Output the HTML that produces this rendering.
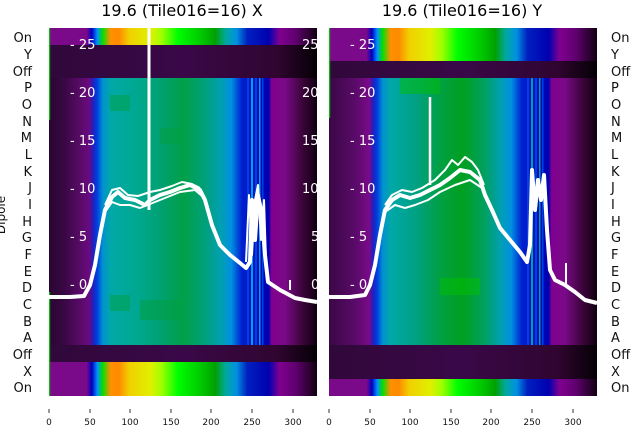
<!DOCTYPE html>
<html><head><meta charset="utf-8"><style>
body{margin:0;background:#fff;}
svg{display:block;font-family:"DejaVu Sans","Liberation Sans",sans-serif;}
</style></head><body>
<svg width="640" height="440" viewBox="0 0 640 440" xmlns="http://www.w3.org/2000/svg">
<defs>
<linearGradient id="mainL" x1="0" x2="1" y1="0" y2="0">
<stop offset="0" stop-color="#2a0530"/><stop offset="0.06" stop-color="#3a0845"/><stop offset="0.12" stop-color="#5a0a6a"/><stop offset="0.15" stop-color="#6a0a80"/><stop offset="0.165" stop-color="#2020c0"/><stop offset="0.18" stop-color="#0040e0"/><stop offset="0.2" stop-color="#0090d0"/><stop offset="0.23" stop-color="#00a8a8"/><stop offset="0.33" stop-color="#00a890"/><stop offset="0.42" stop-color="#00a070"/><stop offset="0.5" stop-color="#00a048"/><stop offset="0.58" stop-color="#00a078"/><stop offset="0.64" stop-color="#00a0b0"/><stop offset="0.68" stop-color="#0090e0"/><stop offset="0.72" stop-color="#0020d0"/><stop offset="0.82" stop-color="#0000b0"/><stop offset="0.83" stop-color="#800090"/><stop offset="0.88" stop-color="#7a0a88"/><stop offset="0.94" stop-color="#400540"/><stop offset="1" stop-color="#100010"/>
</linearGradient>
<linearGradient id="mainR" x1="0" x2="1" y1="0" y2="0">
<stop offset="0" stop-color="#3a0845"/><stop offset="0.1" stop-color="#5a0a6a"/><stop offset="0.15" stop-color="#7a0a8a"/><stop offset="0.165" stop-color="#2020c0"/><stop offset="0.18" stop-color="#0040e0"/><stop offset="0.2" stop-color="#0090d0"/><stop offset="0.23" stop-color="#00a8a8"/><stop offset="0.33" stop-color="#00a080"/><stop offset="0.42" stop-color="#00a040"/><stop offset="0.5" stop-color="#00a020"/><stop offset="0.58" stop-color="#00a060"/><stop offset="0.64" stop-color="#00a0b0"/><stop offset="0.68" stop-color="#0090e0"/><stop offset="0.72" stop-color="#0020d0"/><stop offset="0.82" stop-color="#0000b0"/><stop offset="0.83" stop-color="#800090"/><stop offset="0.88" stop-color="#7a0a88"/><stop offset="0.94" stop-color="#400540"/><stop offset="1" stop-color="#100010"/>
</linearGradient>
<linearGradient id="col" x1="0" x2="1" y1="0" y2="0">
<stop offset="0" stop-color="#7a0a8a"/><stop offset="0.14" stop-color="#7a0a8a"/><stop offset="0.16" stop-color="#0000c0"/><stop offset="0.18" stop-color="#0090ff"/><stop offset="0.2" stop-color="#00e000"/><stop offset="0.23" stop-color="#ff9000"/><stop offset="0.26" stop-color="#ff8a00"/><stop offset="0.3" stop-color="#f0d000"/><stop offset="0.38" stop-color="#e0f000"/><stop offset="0.42" stop-color="#a0ff00"/><stop offset="0.48" stop-color="#00ff00"/><stop offset="0.58" stop-color="#00c000"/><stop offset="0.62" stop-color="#00a000"/><stop offset="0.66" stop-color="#00a8a0"/><stop offset="0.7" stop-color="#0090e0"/><stop offset="0.74" stop-color="#0020c0"/><stop offset="0.82" stop-color="#0000b0"/><stop offset="0.86" stop-color="#800090"/><stop offset="0.92" stop-color="#600070"/><stop offset="1" stop-color="#100010"/>
</linearGradient>
<linearGradient id="dark" x1="0" x2="1" y1="0" y2="0">
<stop offset="0" stop-color="#30083a"/><stop offset="0.5" stop-color="#3a0848"/><stop offset="0.85" stop-color="#300530"/><stop offset="1" stop-color="#050005"/>
</linearGradient>
</defs>

<text x="182" y="16" font-size="16" text-anchor="middle">19.6 (Tile016=16) X</text>
<text x="462" y="16" font-size="16" text-anchor="middle">19.6 (Tile016=16) Y</text>

<!-- left panel -->
<rect x="49" y="28" width="268" height="17" fill="url(#col)"/>
<rect x="49" y="45" width="268" height="33" fill="url(#dark)"/>
<rect x="49" y="78" width="268" height="267" fill="url(#mainL)"/>
<rect x="49" y="345" width="268" height="17" fill="url(#dark)"/>
<rect x="49" y="362" width="268" height="34" fill="url(#col)"/>
<g fill="#0040e0"><rect x="247" y="78" width="2" height="267"/><rect x="255" y="78" width="2" height="267"/><rect x="262" y="78" width="1.5" height="267"/></g>
<g fill="#00a0e0"><rect x="251" y="78" width="2" height="267"/><rect x="259" y="78" width="1.5" height="267"/></g>
<g fill="#00a040" opacity="0.5"><rect x="110" y="95" width="20" height="16"/><rect x="160" y="128" width="25" height="16"/><rect x="140" y="300" width="40" height="20"/><rect x="110" y="295" width="20" height="16"/></g>
<rect x="49" y="28" width="1.2" height="92" fill="#00c000"/>
<rect x="49" y="292" width="1.2" height="104" fill="#00c000"/>

<!-- right panel -->
<rect x="329" y="28" width="268" height="33" fill="url(#col)"/>
<rect x="329" y="61" width="268" height="17" fill="url(#dark)"/>
<rect x="329" y="78" width="268" height="267" fill="url(#mainR)"/>
<rect x="329" y="345" width="268" height="34" fill="url(#dark)"/>
<rect x="329" y="379" width="268" height="17" fill="url(#col)"/>
<g fill="#0040e0"><rect x="527" y="78" width="2" height="267"/><rect x="535" y="78" width="2" height="267"/><rect x="542" y="78" width="1.5" height="267"/></g>
<g fill="#00a0a0"><rect x="531" y="78" width="2" height="267"/><rect x="539" y="78" width="1.5" height="267"/></g>
<g fill="#00c000" opacity="0.5"><rect x="440" y="278" width="40" height="17"/><rect x="400" y="78" width="40" height="16"/></g>
<rect x="329" y="28" width="1.2" height="90" fill="#00c000"/>

<g fill="#fff" font-size="13">
<text x="70" y="49">- 25</text><text x="70" y="97">- 20</text><text x="70" y="145">- 15</text><text x="70" y="193">- 10</text><text x="70" y="241">- 5</text><text x="70" y="289">- 0</text>
<text x="350" y="49">- 25</text><text x="350" y="97">- 20</text><text x="350" y="145">- 15</text><text x="350" y="193">- 10</text><text x="350" y="241">- 5</text><text x="350" y="289">- 0</text>
<text x="302" y="49">25</text><text x="302" y="97">20</text><text x="302" y="145">15</text><text x="302" y="193">10</text><text x="311" y="241">5</text><text x="311" y="289">0</text>
</g>

<g fill="none" stroke="#fff" stroke-linejoin="round">
<polyline stroke-width="4" points="49,297 70,297 84,296 90,285 95,265 100,235 105,210 112,197 118,192 125,198 135,200 145,205 150,200 160,195 170,192 180,188 190,185 200,190 205,200 212,225 220,245 230,255 240,263 246,268 250,262 252,200 255,240 258,195 262,215 265,255 268,282 280,290 295,298 305,300 317,302"/>
<polyline stroke-width="2" points="105,205 112,190 120,188 128,195 138,196 150,192 160,190 172,186 182,182 192,184 200,188"/>
<polyline stroke-width="2" points="105,212 112,202 120,205 130,205 140,208 150,204 165,198 180,192 195,190 202,196"/>
<polyline stroke-width="2" points="246,262 249,195 252,255 255,200 258,185 261,240 264,200 266,260"/>
<line x1="149" y1="28" x2="149" y2="210" stroke-width="3"/>
<line x1="290" y1="280" x2="290" y2="290" stroke-width="2"/>
</g>
<g fill="none" stroke="#fff" stroke-linejoin="round">
<polyline stroke-width="4" points="329,297 350,297 365,295 370,285 375,265 380,235 385,210 392,200 400,195 410,198 420,195 430,190 440,185 450,178 460,170 470,172 480,180 485,195 492,210 500,228 510,240 520,252 527,262 530,245 532,170 535,210 538,180 541,200 544,175 547,230 550,270 555,280 565,285 575,292 585,300 597,303"/>
<polyline stroke-width="2" points="385,205 392,195 402,190 412,192 422,188 435,180 445,170 452,160 458,165 465,157 472,162 478,170 484,185"/>
<polyline stroke-width="2" points="385,212 395,205 405,208 415,205 428,200 440,192 455,185 470,180 482,188 488,200"/>
<line x1="430" y1="97" x2="430" y2="185" stroke-width="2.5"/>
<line x1="566" y1="263" x2="566" y2="287" stroke-width="2"/>
</g>

<g font-size="13" fill="#111">
<g text-anchor="end">
<text x="32" y="42">On</text><text x="32" y="59">Y</text><text x="32" y="76">Off</text><text x="32" y="92">P</text><text x="32" y="109">O</text><text x="32" y="126">N</text><text x="32" y="142">M</text><text x="32" y="159">L</text><text x="32" y="176">K</text><text x="32" y="192">J</text><text x="32" y="209">I</text><text x="32" y="226">H</text><text x="32" y="242">G</text><text x="32" y="259">F</text><text x="32" y="276">E</text><text x="32" y="292">D</text><text x="32" y="309">C</text><text x="32" y="326">B</text><text x="32" y="342">A</text><text x="32" y="359">Off</text><text x="32" y="376">X</text><text x="32" y="392">On</text>
</g>
<g>
<text x="611" y="42">On</text><text x="611" y="59">Y</text><text x="611" y="76">Off</text><text x="611" y="92">P</text><text x="611" y="109">O</text><text x="611" y="126">N</text><text x="611" y="142">M</text><text x="611" y="159">L</text><text x="611" y="176">K</text><text x="611" y="192">J</text><text x="611" y="209">I</text><text x="611" y="226">H</text><text x="611" y="242">G</text><text x="611" y="259">F</text><text x="611" y="276">E</text><text x="611" y="292">D</text><text x="611" y="309">C</text><text x="611" y="326">B</text><text x="611" y="342">A</text><text x="611" y="359">Off</text><text x="611" y="376">X</text><text x="611" y="392">On</text>
</g>
<text transform="translate(5,215) rotate(-90)" text-anchor="middle" font-size="12">Dipole</text>
</g>

<g stroke="#333" stroke-width="1">
<line x1="49" y1="409" x2="49" y2="413"/><line x1="90" y1="409" x2="90" y2="413"/><line x1="130" y1="409" x2="130" y2="413"/><line x1="171" y1="409" x2="171" y2="413"/><line x1="211" y1="409" x2="211" y2="413"/><line x1="252" y1="409" x2="252" y2="413"/><line x1="293" y1="409" x2="293" y2="413"/>
<line x1="329" y1="409" x2="329" y2="413"/><line x1="370" y1="409" x2="370" y2="413"/><line x1="410" y1="409" x2="410" y2="413"/><line x1="451" y1="409" x2="451" y2="413"/><line x1="491" y1="409" x2="491" y2="413"/><line x1="532" y1="409" x2="532" y2="413"/><line x1="573" y1="409" x2="573" y2="413"/>
</g>
<g font-size="9" fill="#111" text-anchor="middle">
<text x="49" y="425">0</text><text x="90" y="425">50</text><text x="130" y="425">100</text><text x="171" y="425">150</text><text x="211" y="425">200</text><text x="252" y="425">250</text><text x="293" y="425">300</text>
<text x="329" y="425">0</text><text x="370" y="425">50</text><text x="410" y="425">100</text><text x="451" y="425">150</text><text x="491" y="425">200</text><text x="532" y="425">250</text><text x="573" y="425">300</text>
</g>
</svg>
</body></html>
